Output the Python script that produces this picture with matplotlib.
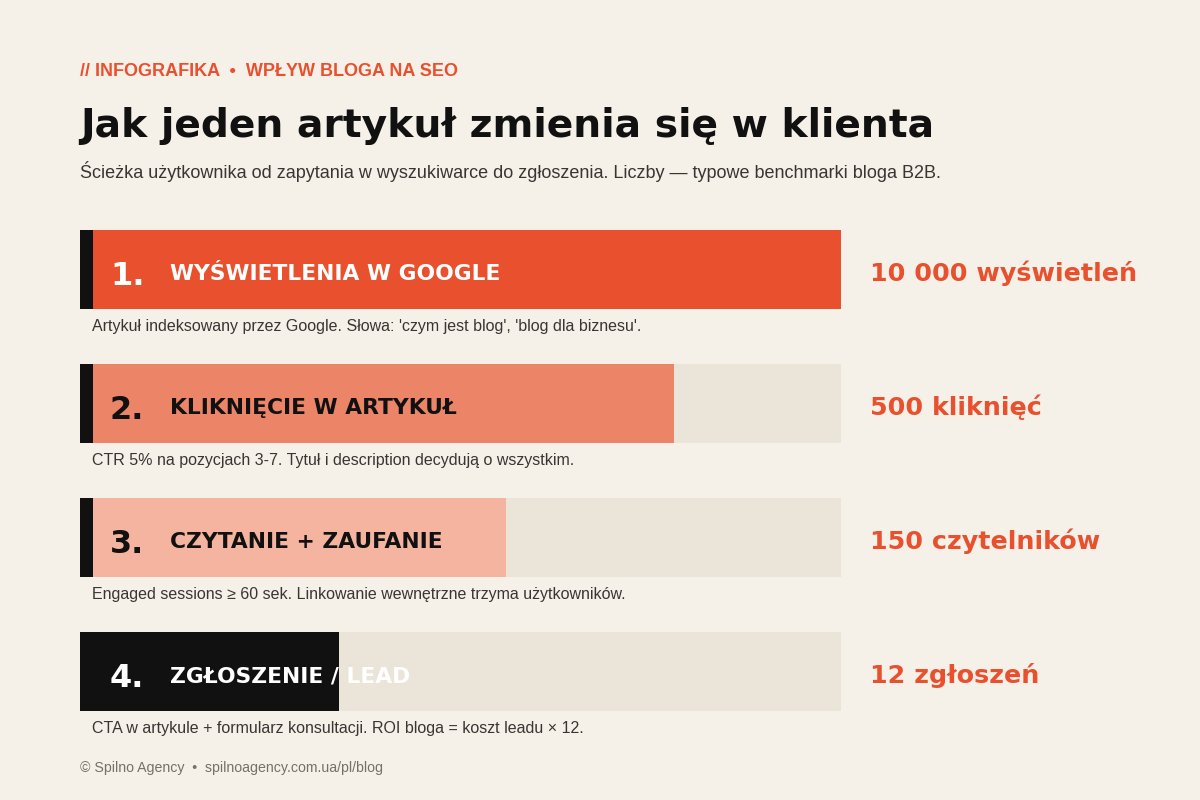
import matplotlib.pyplot as plt

plt.rcParams['font.family'] = ['Liberation Sans', 'DejaVu Sans']
HEAVY = ['DejaVu Sans']

BG = '#f5f0e8'
TRACK = '#ebe4d9'
ORANGE = '#e8502e'

steps = ['WYŚWIETLENIA W GOOGLE', 'KLIKNIĘCIE W ARTYKUŁ', 'CZYTANIE + ZAUFANIE', 'ZGŁOSZENIE / LEAD']
shares = [1.0, 0.78, 0.56, 0.34]
values = ['10 000 wyświetleń', '500 kliknięć', '150 czytelników', '12 zgłoszeń']
notes = [
    "Artykuł indeksowany przez Google. Słowa: 'czym jest blog', 'blog dla biznesu'.",
    "CTR 5% na pozycjach 3-7. Tytuł i description decydują o wszystkim.",
    "Engaged sessions ≥ 60 sek. Linkowanie wewnętrzne trzyma użytkowników.",
    "CTA w artykule + formularz konsultacji. ROI bloga = koszt leadu × 12.",
]
bar_colors = ['#e8502e', '#ec8467', '#f5b4a0', '#111111']
text_colors = ['white', '#111111', '#111111', 'white']

fig = plt.figure(figsize=(12, 8), dpi=100, facecolor=BG)
ax = fig.add_axes([0, 0, 1, 1])
ax.set_xlim(0, 1200)
ax.set_ylim(800, 0)
ax.axis('off')

x0, track_w, bh = 80, 761, 79
for i, (name, s, v, n) in enumerate(zip(steps, shares, values, notes)):
    yc = 269.5 + i * 134
    ax.barh(yc, track_w, height=bh, left=x0, color=TRACK)
    ax.barh(yc, track_w * s, height=bh, left=x0, color=bar_colors[i])
    ax.barh(yc, 13, height=bh, left=x0, color='#111111')
    ax.text(110, yc + 7, f'{i + 1}.', fontsize=23, fontweight='bold', family=HEAVY,
            color=text_colors[i], va='center')
    ax.text(170, yc + 5, name, fontsize=15.7, fontweight='bold', family=HEAVY,
            color=text_colors[i], va='center')
    ax.text(870, yc + 4, v, fontsize=18.3, fontweight='bold', family=HEAVY, color=ORANGE, va='center')
    ax.text(92, yc + 57, n, fontsize=11.5, color='#3a3532', va='center')

ax.text(80, 71, '// INFOGRAFIKA  •  WPŁYW BLOGA NA SEO', fontsize=13, fontweight='bold', color=ORANGE, va='center')
ax.text(80, 126, 'Jak jeden artykuł zmienia się w klienta', fontsize=28.3, fontweight='bold', family=HEAVY,
        color='#111111', va='center')
ax.text(80, 171, 'Ścieżka użytkownika od zapytania w wyszukiwarce do zgłoszenia. Liczby — typowe benchmarki bloga B2B.',
        fontsize=13, color='#3a3532', va='center')
ax.text(80, 768, '© Spilno Agency  •  spilnoagency.com.ua/pl/blog', fontsize=10.2, color='#77706a', va='center')

fig.savefig('out.png', dpi=100, facecolor=BG)
